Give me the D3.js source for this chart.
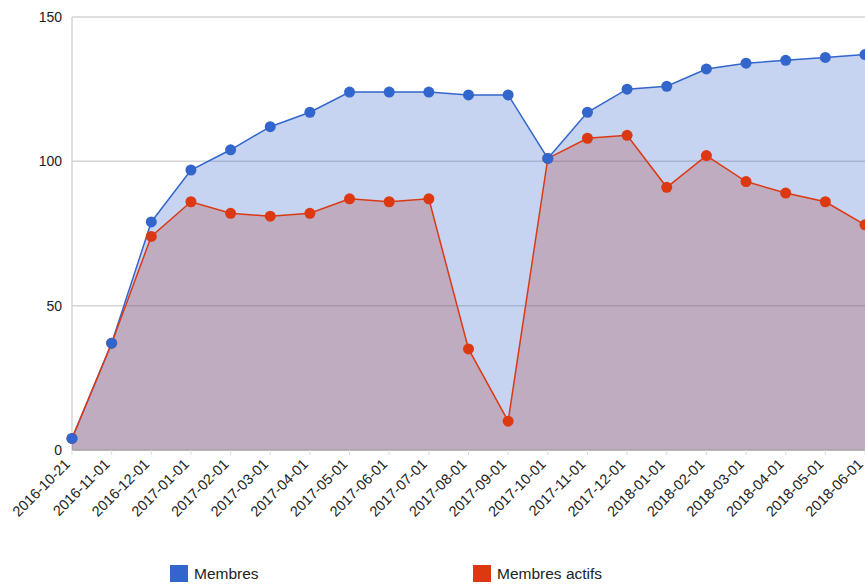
<!DOCTYPE html>
<html>
<head>
<meta charset="utf-8">
<script src="https://cdn.jsdelivr.net/npm/d3@7"></script>
<style>
  body { margin: 0; background: #fff; }
  svg { display: block; font-family: Arial, "Liberation Sans", sans-serif; }
</style>
</head>
<body>
<svg id="chart" width="865" height="585"></svg>
<script>
// categories (x) and the two series
const dates = ["2016-10-21", "2016-11-01", "2016-12-01", "2017-01-01", "2017-02-01", "2017-03-01",
  "2017-04-01", "2017-05-01", "2017-06-01", "2017-07-01", "2017-08-01", "2017-09-01", "2017-10-01",
  "2017-11-01", "2017-12-01", "2018-01-01", "2018-02-01", "2018-03-01", "2018-04-01", "2018-05-01", "2018-06-01"];
const membres = [4, 37, 79, 97, 104, 112, 117, 124, 124, 124, 123, 123, 101, 117, 125, 126, 132, 134, 135, 136, 137];
const actifs = [4, 37, 74, 86, 82, 81, 82, 87, 86, 87, 35, 10, 101, 108, 109, 91, 102, 93, 89, 86, 78];
const yTicks = [0, 50, 100, 150];

const svg = d3.select("#chart");
const width = 865, height = 585;
const margin = { top: 17, right: 0, bottom: 135, left: 72 };

const x = d3.scalePoint().domain(dates).range([margin.left, width - margin.right]);
const y = d3.scaleLinear().domain([0, 150]).range([height - margin.bottom, margin.top]);

// gridlines
svg.append("g").selectAll("line").data(yTicks).join("line")
  .attr("x1", margin.left).attr("x2", width)
  .attr("y1", d => y(d)).attr("y2", d => y(d))
  .attr("stroke", "#d4d4d4").attr("stroke-width", 1.5);

svg.append("line")
  .attr("x1", margin.left).attr("x2", margin.left)
  .attr("y1", y(150)).attr("y2", y(0))
  .attr("stroke", "#d4d4d4").attr("stroke-width", 1.5);

// y labels
svg.append("g").selectAll("text").data(yTicks).join("text")
  .attr("x", margin.left - 10).attr("y", d => y(d) + 5)
  .attr("text-anchor", "end").attr("font-size", 14).attr("fill", "#222")
  .text(d => d);

const series = [
  { name: "Membres", values: membres, color: "#3366cc" },
  { name: "Membres actifs", values: actifs, color: "#dc3912" }
];

const area = d3.area().x((d, i) => x(dates[i])).y0(y(0)).y1(d => y(d));
const line = d3.line().x((d, i) => x(dates[i])).y(d => y(d));

// red area underneath, blue area on top -> mauve overlap
[series[1], series[0]].forEach(s => {
  svg.append("path").datum(s.values).attr("d", area)
    .attr("fill", s.color).attr("fill-opacity", 0.28);
});

// baseline
svg.append("line")
  .attr("x1", margin.left).attr("x2", width)
  .attr("y1", y(0)).attr("y2", y(0))
  .attr("stroke", "#aaa").attr("stroke-width", 1.5);

series.forEach(s => {
  svg.append("path").datum(s.values).attr("d", line)
    .attr("fill", "none").attr("stroke", s.color).attr("stroke-width", 1.5);
});
[series[1], series[0]].forEach(s => {
  svg.append("g").selectAll("circle").data(s.values).join("circle")
    .attr("cx", (d, i) => x(dates[i])).attr("cy", d => y(d))
    .attr("r", 5.5).attr("fill", s.color);
});

// x ticks and slanted labels
svg.append("g").selectAll("line").data(dates).join("line")
  .attr("x1", d => x(d)).attr("x2", d => x(d))
  .attr("y1", y(0)).attr("y2", y(0) + 5)
  .attr("stroke", "#ddd");
svg.append("g").selectAll("text").data(dates).join("text")
  .attr("transform", d => `translate(${x(d) - 1},${y(0) + 15}) rotate(-45)`)
  .attr("text-anchor", "end").attr("font-size", 14.5).attr("fill", "#222")
  .text(d => d);

// legend
const legend = svg.append("g").selectAll("g").data(series).join("g")
  .attr("transform", (d, i) => `translate(${[170, 473][i]},565)`);
legend.append("rect").attr("width", 18).attr("height", 17).attr("fill", d => d.color);
legend.append("text").attr("x", 24).attr("y", 14).attr("font-size", 15.5).attr("fill", "#222")
  .text(d => d.name);
</script>
</body>
</html>
